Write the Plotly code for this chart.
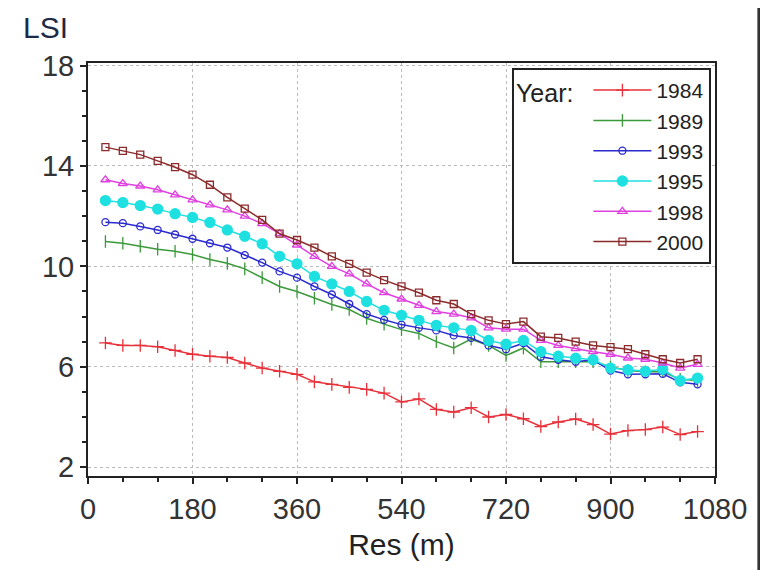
import plotly.graph_objects as go

res = [30, 60, 90, 120, 150, 180, 210, 240, 270, 300, 330, 360, 390, 420, 450, 480, 510,
       540, 570, 600, 630, 660, 690, 720, 750, 780, 810, 840, 870, 900, 930, 960, 990, 1020, 1050]

lsi_1984 = [6.95, 6.85, 6.85, 6.8, 6.65, 6.5, 6.42, 6.37, 6.15, 5.95, 5.82, 5.7, 5.4, 5.3, 5.18,
            5.1, 4.95, 4.6, 4.72, 4.3, 4.2, 4.37, 4.0, 4.1, 3.93, 3.62, 3.8, 3.92, 3.7, 3.32,
            3.46, 3.5, 3.6, 3.3, 3.42]
lsi_1989 = [10.99, 10.92, 10.8, 10.68, 10.6, 10.47, 10.27, 10.12, 9.9, 9.55, 9.2, 9.0, 8.73, 8.48,
            8.28, 7.93, 7.7, 7.48, 7.33, 7.0, 6.75, 7.1, 6.85, 6.45, 6.75, 6.2, 6.2, 6.2, 6.2,
            6.0, 5.85, 5.8, 5.8, 5.5, 5.45]
lsi_1993 = [11.76, 11.72, 11.59, 11.45, 11.27, 11.1, 10.92, 10.75, 10.45, 10.15, 9.8, 9.55, 9.2,
            8.88, 8.5, 8.1, 7.87, 7.68, 7.55, 7.45, 7.25, 7.15, 6.85, 6.7, 6.94, 6.4, 6.28, 6.2,
            6.28, 5.85, 5.7, 5.7, 5.72, 5.38, 5.3]
lsi_1995 = [12.62, 12.54, 12.42, 12.28, 12.1, 11.95, 11.75, 11.45, 11.2, 10.9, 10.4, 10.1, 9.6,
            9.3, 9.0, 8.6, 8.25, 8.05, 7.85, 7.65, 7.55, 7.45, 7.05, 6.9, 7.05, 6.6, 6.42, 6.34,
            6.28, 5.95, 5.88, 5.82, 5.9, 5.45, 5.55]
lsi_1998 = [13.45, 13.3, 13.2, 13.05, 12.85, 12.65, 12.45, 12.25, 12.0, 11.7, 11.3, 10.85, 10.4,
            10.0, 9.7, 9.3, 8.95, 8.7, 8.45, 8.2, 8.1, 7.95, 7.55, 7.5, 7.5, 7.05, 6.85, 6.72,
            6.6, 6.5, 6.35, 6.3, 6.15, 5.95, 6.1]
lsi_2000 = [14.75, 14.6, 14.45, 14.2, 13.95, 13.65, 13.25, 12.75, 12.3, 11.85, 11.3, 11.05, 10.75,
            10.4, 10.1, 9.75, 9.45, 9.2, 8.95, 8.65, 8.5, 8.1, 7.85, 7.7, 7.8, 7.2, 7.15, 7.0,
            6.85, 6.78, 6.7, 6.5, 6.3, 6.15, 6.3]

years = ["1984", "1989", "1993", "1995", "1998", "2000"]
series = [lsi_1984, lsi_1989, lsi_1993, lsi_1995, lsi_1998, lsi_2000]
colors = ["#e8303a", "#3a9a3a", "#2a2ad0", "#1ee0e0", "#e040e0", "#8b2b2b"]
symbols = ["cross-thin-open", "line-ns-open", "circle-open", "circle", "triangle-up-open", "square-open"]
sizes = [9, 9, 7, 10, 8, 7]

x_ticks = [0, 180, 360, 540, 720, 900, 1080]
y_ticks = [2, 6, 10, 14, 18]

fig = go.Figure()
for yr, vals, col, sym, sz in zip(years, series, colors, symbols, sizes):
    fig.add_trace(go.Scatter(
        x=res, y=vals, name=yr, mode="lines+markers",
        line=dict(color=col, width=1.5),
        marker=dict(symbol=sym, size=sz, color=col, line=dict(color=col, width=1.3)),
    ))

axis_font = dict(family="Liberation Sans, Arial, sans-serif", size=29, color="#333333")

fig.update_layout(
    width=760, height=562,
    margin=dict(l=80, r=53, t=55, b=94),
    paper_bgcolor="white", plot_bgcolor="white",
    font=dict(family="Liberation Sans, Arial, sans-serif", color="#222222"),
    showlegend=True,
    legend=dict(
        x=0.9936, y=0.988, xanchor="right", yanchor="top",
        bgcolor="white", bordercolor="#222222", borderwidth=2,
        font=dict(size=21, color="#222222"),
        title=dict(text="Year: ", side="left", font=dict(size=25, color="#222222")),
        itemwidth=58, tracegroupgap=0,
    ),
    xaxis=dict(
        range=[0, 1080], tickvals=x_ticks, ticktext=[str(v) for v in x_ticks],
        tickfont=axis_font, ticks="outside", ticklen=6, tickwidth=1.5, tickcolor="#222",
        showline=True, linecolor="#222222", linewidth=2, mirror=True,
        showgrid=True, gridcolor="#bbbbbb", griddash="dot", gridwidth=1,
        zeroline=False,
        minor=dict(dtick=60, tick0=0, ticks="outside", ticklen=4, tickcolor="#222", showgrid=False),
        title=dict(text="Res (m)", font=dict(size=30, color="#222222"), standoff=10),
    ),
    yaxis=dict(
        range=[1.65, 18.1], tickvals=y_ticks, ticktext=[str(v) for v in y_ticks],
        tickfont=axis_font, ticks="outside", ticklen=6, tickwidth=1.5, tickcolor="#222",
        showline=True, linecolor="#222222", linewidth=2, mirror=True,
        showgrid=True, gridcolor="#bbbbbb", griddash="dot", gridwidth=1,
        zeroline=False,
        minor=dict(dtick=1, tick0=0, ticks="outside", ticklen=4, tickcolor="#222", showgrid=False),
    ),
    annotations=[dict(
        text="LSI", xref="paper", yref="paper", x=-0.107, y=1.131,
        xanchor="left", yanchor="top", showarrow=False,
        font=dict(size=30, color="#1c2a48"),
    )],
    shapes=[dict(
        type="line", xref="paper", yref="paper", x0=1.07, x1=1.07, y0=-0.23, y1=1.14,
        line=dict(color="#333333", width=3),
    )],
)

fig.write_html("out.html")
